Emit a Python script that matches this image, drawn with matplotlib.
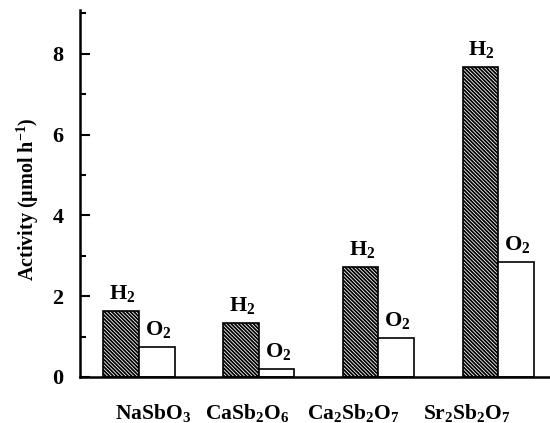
import numpy as np
import matplotlib
matplotlib.use("Agg")
import matplotlib.pyplot as plt
from matplotlib.ticker import MultipleLocator

plt.rcParams['font.family'] = ['Liberation Serif', 'DejaVu Serif']
plt.rcParams['font.weight'] = 'bold'
plt.rcParams['mathtext.fontset'] = 'custom'
plt.rcParams['mathtext.rm'] = 'Liberation Serif:bold'
plt.rcParams['mathtext.it'] = 'Liberation Serif:bold'
plt.rcParams['mathtext.bf'] = 'Liberation Serif:bold'
plt.rcParams['hatch.linewidth'] = 1.3

# photocatalytic activity per compound
compounds = [r'$\mathrm{NaSbO_3}$', r'$\mathrm{CaSb_2O_6}$',
             r'$\mathrm{Ca_2Sb_2O_7}$', r'$\mathrm{Sr_2Sb_2O_7}$']
h2_rate = [1.64, 1.33, 2.72, 7.68]
o2_rate = [0.75, 0.20, 0.96, 2.85]

# compound names sit a little off the bar groups
label_x = [0.117, 0.90, 1.79, 2.74]

fig = plt.figure(figsize=(5.5, 4.23), dpi=100)
ax = fig.add_axes([0.1455, 0.109, 0.8545, 0.867])

x = np.arange(len(compounds))
w = 0.297
ax.bar(x - w / 2, h2_rate, w, facecolor='white', edgecolor='black',
       hatch='\\' * 9, linewidth=1.2)
ax.bar(x + w / 2, o2_rate, w, facecolor='white', edgecolor='black',
       linewidth=1.2)

for xi, h, o in zip(x, h2_rate, o2_rate):
    ax.annotate(r'$\mathrm{H_2}$', (xi - w / 2, h), xytext=(1, 5),
                textcoords='offset points', ha='center', va='bottom', fontsize=16)
    ax.annotate(r'$\mathrm{O_2}$', (xi + w / 2, o), xytext=(1, 5),
                textcoords='offset points', ha='center', va='bottom', fontsize=16)

ax.set_xlim(-0.493, 3.434)
ax.set_ylim(0, 9.08)
ax.set_xticks(label_x)
ax.set_xticklabels(compounds, fontsize=15.5)
ax.tick_params(axis='x', length=0, pad=18)
ax.yaxis.set_major_locator(MultipleLocator(2))
ax.yaxis.set_minor_locator(MultipleLocator(1))
ax.tick_params(axis='y', which='major', direction='in', length=7, width=1.5,
               labelsize=16, pad=12)
ax.tick_params(axis='y', which='minor', direction='in', length=4.5, width=1.5)
ax.set_ylabel(r'Activity (μmol h$^{-1}$)', fontsize=14.5, fontweight='bold')
ax.yaxis.set_label_coords(-0.083, 0.485)

for s in ['top', 'right']:
    ax.spines[s].set_visible(False)
for s in ['left', 'bottom']:
    ax.spines[s].set_linewidth(1.8)

fig.savefig('out.png', dpi=100)
